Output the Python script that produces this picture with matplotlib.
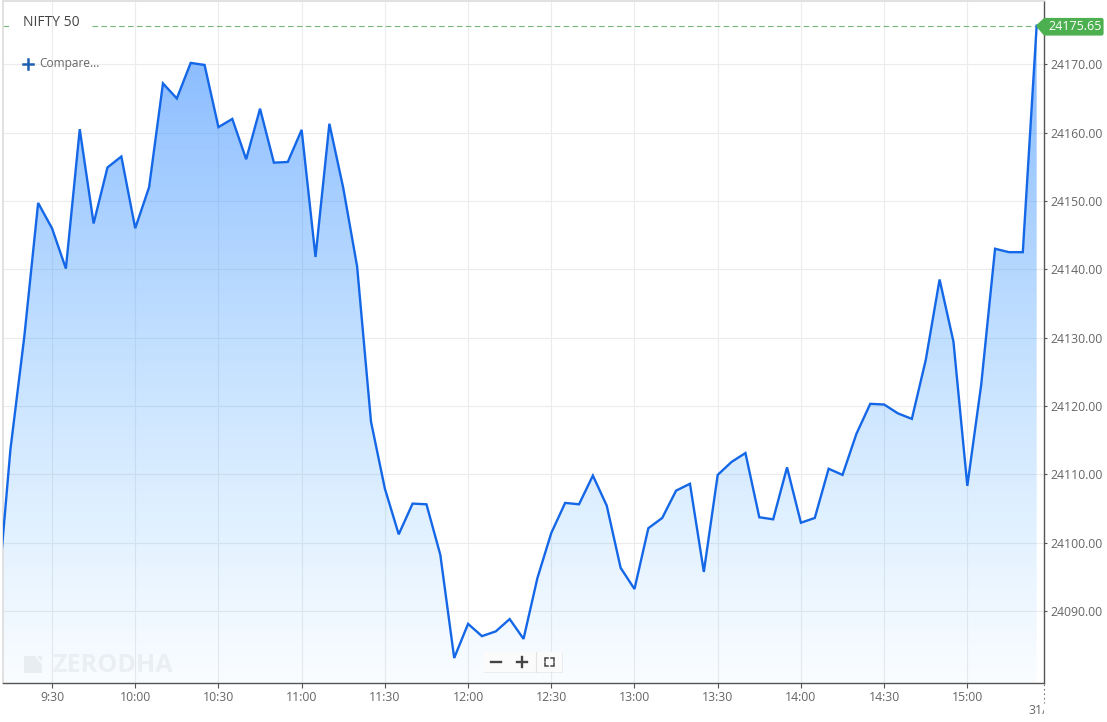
"""NIFTY 50 intraday area chart in the Zerodha chart style."""

import matplotlib

matplotlib.use("Agg")
import matplotlib.pyplot as plt
import numpy as np
from matplotlib.patches import Polygon, Rectangle
from matplotlib.transforms import Affine2D

plt.rcParams["font.family"] = ["Open Sans", "DejaVu Sans"]

WIDTH, HEIGHT = 1107, 722

# minutes since midnight, one point every 5 minutes from 9:10 to 15:25
minutes = list(range(550, 930, 5))
prices = [
    24090.0, 24113.6, 24130.1, 24149.7, 24146.0, 24140.1, 24160.5, 24146.7,
    24154.9, 24156.5, 24146.0, 24152.0, 24167.2, 24165.0, 24170.2, 24169.9,
    24160.8, 24162.0, 24156.1, 24163.5, 24155.6, 24155.7, 24160.4, 24141.8,
    24161.3, 24151.9, 24140.4, 24117.7, 24107.9, 24101.2, 24105.7, 24105.6,
    24098.2, 24083.1, 24088.1, 24086.3, 24087.0, 24088.8, 24085.9, 24094.8,
    24101.4, 24105.8, 24105.6, 24109.8, 24105.4, 24096.3, 24093.2, 24102.1,
    24103.6, 24107.6, 24108.6, 24095.7, 24109.9, 24111.8, 24113.1, 24103.7,
    24103.4, 24111.0, 24102.9, 24103.6, 24110.8, 24109.9, 24115.9, 24120.3,
    24120.2, 24118.9, 24118.1, 24126.7, 24138.5, 24129.4, 24108.3, 24123.1,
    24143.0, 24142.5, 24142.5, 24175.65,
]
x_tick_minutes = [570, 600, 630, 660, 690, 720, 750, 780, 810, 840, 870, 900]
x_tick_labels = ["9:30", "10:00", "10:30", "11:00", "11:30", "12:00",
                 "12:30", "13:00", "13:30", "14:00", "14:30", "15:00"]
y_ticks = [24090, 24100, 24110, 24120, 24130, 24140, 24150, 24160, 24170]
last_price = 24175.65

LINE = "#1467e6"
GRID = "#ececec"
AXIS = "#555555"
TEXT = "#666666"
GREEN = "#4caf50"
GUIDE = "#74b87a"

fig = plt.figure(figsize=(WIDTH / 100, HEIGHT / 100), dpi=100)
left, right, top, bottom = 3, 1044.3, 1, 683.3
ax = fig.add_axes([left / WIDTH, 1 - bottom / HEIGHT, (right - left) / WIDTH, (bottom - top) / HEIGHT])

# pixel coordinates of the picture, origin top left, for the chart furniture
px = Affine2D().scale(1, -1).translate(0, HEIGHT)

xlim = (552.33, 927.75)
ylim = (24079.4, 24179.26)

ax.set_axisbelow(True)
ax.grid(True, color=GRID, linewidth=0.8)

# area below the line: blue fading to a paler cyan blue, grid shows through
gradient = np.zeros((256, 1, 4))
gradient[:, 0, 0] = np.linspace(33, 70, 256) / 255
gradient[:, 0, 1] = np.linspace(126, 175, 256) / 255
gradient[:, 0, 2] = 1.0
gradient[:, 0, 3] = np.linspace(0.55, 0.03, 256)
image = ax.imshow(
    gradient,
    extent=(xlim[0], xlim[1], ylim[0], last_price),
    origin="upper",
    aspect="auto",
    interpolation="bilinear",
    zorder=2,
)
outline = np.column_stack([minutes, prices])
outline = np.vstack([outline, [minutes[-1], ylim[0]], [minutes[0], ylim[0]]])
clip = Polygon(outline, closed=True, transform=ax.transData, facecolor="none", edgecolor="none")
ax.add_patch(clip)
image.set_clip_path(clip)

ax.plot(minutes, prices, color=LINE, linewidth=1.7, solid_joinstyle="miter", zorder=3)

# last price guide, broken behind the title
ax.hlines(last_price, xlim[0], 555.2, color=GUIDE, linewidth=0.8, linestyle=(0, (5, 3)), zorder=1)
ax.hlines(last_price, 584.5, minutes[-1], color=GUIDE, linewidth=0.8, linestyle=(0, (5, 3)), zorder=1)

ax.set_xlim(xlim)
ax.set_ylim(ylim)
ax.set_xticks(x_tick_minutes, x_tick_labels)
ax.set_yticks(y_ticks, [f"{v:.2f}" for v in y_ticks])
ax.yaxis.tick_right()
ax.tick_params(axis="x", length=3.6, width=0.8, color=AXIS, labelcolor=TEXT, labelsize=8.8, pad=2)
ax.tick_params(axis="y", length=2.2, width=0.8, color=AXIS, labelcolor=TEXT, labelsize=8.8, pad=2)

for side in ("right", "bottom"):
    ax.spines[side].set_color(AXIS)
    ax.spines[side].set_linewidth(1.0)
for side in ("left", "top"):
    ax.spines[side].set_color("#dcdcdc")
    ax.spines[side].set_linewidth(1.2)

# title and compare control
fig.text(23, 23, "NIFTY 50", transform=px, color="#444444", fontsize=10, va="center", ha="left")
fig.add_artist(plt.Line2D([23, 33], [64, 64], transform=px, color="#1f5fb0", linewidth=1.8))
fig.add_artist(plt.Line2D([28, 28], [59, 69], transform=px, color="#1f5fb0", linewidth=1.8))
fig.text(39, 63.5, "Compare...", transform=px, color=TEXT, fontsize=8.6, va="center", ha="left")

# watermark
logo = Polygon([(24, 656), (35, 656), (42, 665), (42, 673), (24, 673)], closed=True,
               transform=px, facecolor="#8a8f96", edgecolor="none", alpha=0.13)
fig.add_artist(logo)
notch = Polygon([(37, 656), (42, 656), (42, 662)], closed=True,
                transform=px, facecolor="#8a8f96", edgecolor="none", alpha=0.13)
fig.add_artist(notch)
fig.text(52, 665, "ZERODHA", transform=px, color="#8a8f96", alpha=0.11,
         fontsize=18.1, fontweight="bold", va="center", ha="left")

# zoom control
fig.add_artist(Rectangle((484, 653), 79, 20, transform=px, facecolor="#dfe3e8", edgecolor="none", alpha=0.6))
fig.add_artist(Rectangle((483, 652), 79, 20, transform=px, facecolor="#fbfbfb", edgecolor="none"))
fig.add_artist(plt.Line2D([536, 536], [652, 672], transform=px, color="#e2e2e2", linewidth=0.8))
fig.add_artist(plt.Line2D([491, 501], [662, 662], transform=px, color="#444444", linewidth=1.7))
fig.add_artist(plt.Line2D([517, 527], [662, 662], transform=px, color="#444444", linewidth=1.7))
fig.add_artist(plt.Line2D([522, 522], [657, 667], transform=px, color="#444444", linewidth=1.7))
for sx, sy in [(-1, -1), (1, -1), (-1, 1), (1, 1)]:
    cx, cy = 549 + 4.5 * sx, 662 + 4 * sy
    fig.add_artist(plt.Line2D([cx - 3 * sx, cx, cx], [cy, cy, cy - 3 * sy], transform=px,
                              color="#444444", linewidth=1.1, solid_joinstyle="miter"))

# last price tag
tag = Polygon([(1038.5, 26), (1045, 20), (1101.5, 20), (1101.5, 33.5), (1045, 33.5)], closed=True,
              transform=px, facecolor=GREEN, edgecolor=GREEN, linewidth=3, joinstyle="round")
fig.add_artist(tag)
fig.text(1075.5, 26, f"{last_price:.2f}", transform=px, color="white", fontsize=9, va="center", ha="center")

# date marker, cut off by the axis end
fig.add_artist(plt.Line2D([1043.5, 1043.5], [684, 703], transform=px, color="#777777",
                          linewidth=0.8, linestyle=(0, (1.5, 2.5))))
date_label = fig.text(1028, 711, "31/08", transform=px, color=TEXT, fontsize=8.8, va="center", ha="left")
date_label.set_clip_path(Rectangle((1000, 700), 44, 22, transform=px))
date_label.set_clip_on(True)

fig.savefig("out.png", dpi=100)
